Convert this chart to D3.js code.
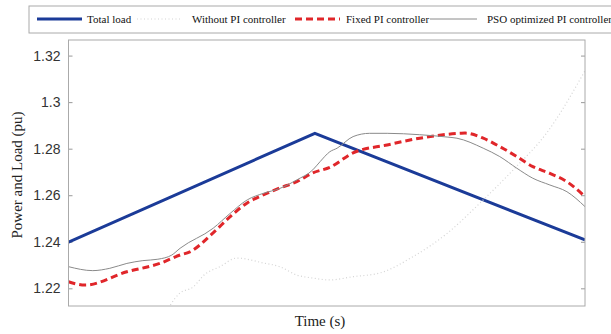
<!DOCTYPE html>
<html>
<head>
<meta charset="utf-8">
<script src="https://cdn.jsdelivr.net/npm/d3@7"></script>
<style>
  body { margin: 0; background: #fff; }
  svg { display: block; }
</style>
</head>
<body>
<svg id="chart" width="611" height="334"></svg>
<script>
// time runs 0..100 (no tick labels on the time axis)
const loadT = [0, 47.7, 100];
const loadV = [1.2398, 1.2866, 1.2408];

const noPiT = [17.7, 21.6, 24.1, 26.4, 29.3, 32.6, 37.7, 40.9, 44.2, 47.3, 50.6, 55.1, 60.3, 66.7, 73.3, 79.7, 86.1, 92.6, 100];
const noPiV = [1.205, 1.218, 1.2205, 1.226, 1.2293, 1.2330, 1.2309, 1.2293, 1.2257, 1.2244, 1.2236, 1.2250, 1.2266, 1.2336, 1.2436, 1.2567, 1.2709, 1.2868, 1.3135];

const fixedT = [0, 3.2, 11.3, 17.7, 21.6, 23.5, 28.0, 31.3, 34.6, 37.7, 40.9, 44.2, 47.3, 50.6, 55.1, 61.7, 68.0, 75.8, 76.8, 80.3, 83.5, 86.8, 89.9, 93.2, 96.5, 100];
const fixedV = [1.2228, 1.2214, 1.2271, 1.2307, 1.2343, 1.2357, 1.2438, 1.2508, 1.2567, 1.2601, 1.2631, 1.2658, 1.2696, 1.2720, 1.2782, 1.2816, 1.2845, 1.2866, 1.2867, 1.2845, 1.2809, 1.2766, 1.2723, 1.2694, 1.2658, 1.2594];

const psoT = [0, 4.7, 8.0, 11.3, 14.4, 17.3, 20.0, 21.6, 28.0, 31.3, 34.6, 37.7, 40.9, 44.2, 47.3, 48.7, 50.6, 52.0, 55.1, 58.3, 61.7, 68.0, 73.3, 75.2, 80.3, 83.5, 86.8, 89.9, 93.2, 96.5, 100];
const psoV = [1.2293, 1.2276, 1.2286, 1.2307, 1.2319, 1.2325, 1.2343, 1.2372, 1.2458, 1.2522, 1.2580, 1.2608, 1.2629, 1.2666, 1.2709, 1.2744, 1.2787, 1.2802, 1.2852, 1.2866, 1.2866, 1.2860, 1.2850, 1.2845, 1.2802, 1.2766, 1.2716, 1.2673, 1.2644, 1.2615, 1.2551];

const yTicks = [1.22, 1.24, 1.26, 1.28, 1.3, 1.32];
const legendNames = ["Total load", "Without PI controller", "Fixed PI controller", "PSO optimized PI controller"];

const zip = (t, v) => t.map((d, i) => ({t: d, v: v[i]}));

const series = [
  {name: legendNames[0], data: zip(loadT, loadV), color: "#1b3b98", width: 3, dash: null, curve: d3.curveLinear},
  {name: legendNames[1], data: zip(noPiT, noPiV), color: "#d4d4d4", width: 1.2, dash: "1,2.5", curve: d3.curveMonotoneX},
  {name: legendNames[2], data: zip(fixedT, fixedV), color: "#e0262a", width: 3, dash: "7,4", curve: d3.curveMonotoneX},
  {name: legendNames[3], data: zip(psoT, psoV), color: "#8a8a8a", width: 1, dash: null, curve: d3.curveMonotoneX}
];

const svg = d3.select("#chart");
const margin = {top: 40, right: 26, bottom: 28, left: 68.5};
const W = 611, H = 334;
const iw = W - margin.left - margin.right,
      ih = H - margin.top - margin.bottom;

const x = d3.scaleLinear().domain([0, 100]).range([0, iw]);
const y = d3.scaleLinear().domain([1.2124, 1.3267]).range([ih, 0]);

const g = svg.append("g")
  .attr("transform", `translate(${margin.left},${margin.top})`);

g.append("clipPath").attr("id", "clip")
  .append("rect").attr("width", iw).attr("height", ih);

// left axis + mirrored ticks on the right
const yAxis = g.append("g")
  .call(d3.axisLeft(y).tickValues(yTicks).tickSize(-4).tickPadding(8).tickFormat(d3.format("~g")));
yAxis.select(".domain").remove();
yAxis.selectAll("line").attr("stroke", "#999");
yAxis.selectAll("text")
  .style("font-family", "'Liberation Sans', Arial, sans-serif")
  .style("font-size", "14px")
  .attr("fill", "#333");

const yRight = g.append("g")
  .attr("transform", `translate(${iw},0)`)
  .call(d3.axisRight(y).tickValues(yTicks).tickSize(-4).tickFormat(""));
yRight.select(".domain").remove();
yRight.selectAll("line").attr("stroke", "#999");

// lines
series.forEach(s => {
  const line = d3.line().x(d => x(d.t)).y(d => y(d.v)).curve(s.curve);
  g.append("path")
    .attr("clip-path", "url(#clip)")
    .attr("d", line(s.data))
    .attr("fill", "none")
    .attr("stroke", s.color)
    .attr("stroke-width", s.width)
    .attr("stroke-dasharray", s.dash);
});

// plot box
g.append("rect")
  .attr("width", iw).attr("height", ih)
  .attr("fill", "none")
  .attr("stroke", "#aaa")
  .attr("stroke-width", 1);

// axis titles
svg.append("text")
  .attr("transform", `translate(22,${margin.top + ih / 2 + 2}) rotate(-90)`)
  .attr("text-anchor", "middle")
  .style("font-family", "'Liberation Serif', 'Times New Roman', serif")
  .style("font-size", "15px")
  .attr("fill", "#222")
  .text("Power and Load (pu)");

svg.append("text")
  .attr("x", 320).attr("y", 326)
  .attr("text-anchor", "middle")
  .style("font-family", "'Liberation Serif', 'Times New Roman', serif")
  .style("font-size", "15px")
  .attr("fill", "#222")
  .text("Time (s)");

// legend
const lg = svg.append("g");
lg.append("rect")
  .attr("x", 29).attr("y", 6)
  .attr("width", 620).attr("height", 27)
  .attr("fill", "#fff")
  .attr("stroke", "#aaa");

const legendPos = [
  {x1: 37, x2: 82, tx: 87},
  {x1: 137, x2: 182, tx: 192},
  {x1: 295, x2: 340, tx: 346},
  {x1: 430, x2: 477, tx: 487}
];

series.forEach((s, i) => {
  const p = legendPos[i];
  lg.append("line")
    .attr("x1", p.x1).attr("x2", p.x2)
    .attr("y1", 19).attr("y2", 19)
    .attr("stroke", s.color)
    .attr("stroke-width", s.width)
    .attr("stroke-dasharray", s.dash);
  lg.append("text")
    .attr("x", p.tx).attr("y", 23)
    .style("font-family", "'Liberation Serif', 'Times New Roman', serif")
    .style("font-size", "11px")
    .attr("fill", "#111")
    .text(s.name);
});
</script>
</body>
</html>
